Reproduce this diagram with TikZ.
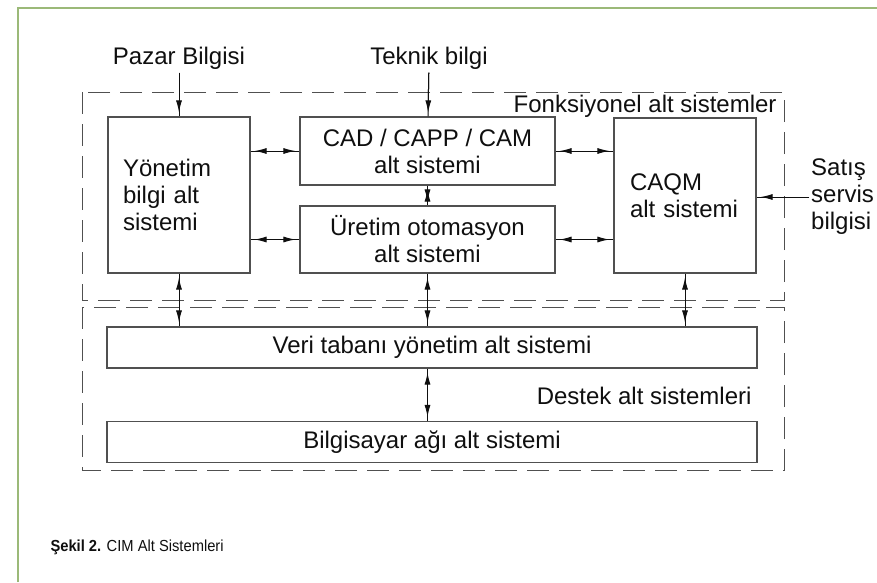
\documentclass[tikz,border=0pt]{standalone}
\usepackage{fontspec}
\setmainfont{Liberation Sans}
\newfontfamily\capfont[FakeStretch=0.92]{Liberation Sans}
\usetikzlibrary{arrows.meta}
\definecolor{cimFrame}{RGB}{155,185,120}
\definecolor{cimLine}{RGB}{80,80,80}
\definecolor{cimText}{RGB}{15,15,15}

\tikzset{
  subbox/.style={draw=cimLine,line width=1.1pt,inner sep=0pt,font=\fontsize{24}{27}\selectfont,text=cimText},
  groupbox/.style={draw=cimLine,line width=1pt,dash pattern=on 22pt off 10pt},
  link/.style={line width=1pt,draw=cimText,postaction={draw,shorten <=4pt,shorten >=4pt,{Latex[length=12pt,width=6pt]}-{Latex[length=12pt,width=6pt]}}},
  infeed/.style={line width=1pt,draw=cimText,postaction={draw,shorten >=4pt,-{Latex[length=12pt,width=6pt]}}},
  lbl/.style={font=\fontsize{24}{27}\selectfont,text=cimText}
}

\begin{document}
\begin{tikzpicture}[x=1pt,y=-1pt]
  \useasboundingbox (0,0) rectangle (877,582);
  % page frame
  \draw[cimFrame,line width=1.6pt] (18,582) -- (18,8) -- (877,8);

  % group outlines
  \draw[groupbox] (82,92) rectangle (784,300);
  \draw[groupbox] (82,307) rectangle (784,470);
  \node[lbl,anchor=base east] (fonk) at (780,112) {Fonksiyonel alt sistemler};
  \node[lbl,anchor=base east] (destek) at (755,404) {Destek alt sistemleri};

  % sub systems
  \node[subbox,text width=112pt,inner xsep=15pt,minimum height=156pt,align=left] (yonetim) at (179,195) {Yönetim\\bilgi alt\\sistemi};
  \node[subbox,minimum width=255pt,minimum height=68pt,align=center] (cad) at (427.5,151) {CAD / CAPP / CAM\\alt sistemi};
  \node[subbox,minimum width=255pt,minimum height=67pt,align=center] (uretim) at (427.5,239.5) {Üretim otomasyon\\alt sistemi};
  \node[subbox,text width=110pt,inner xsep=16pt,minimum height=155pt,align=left] (caqm) at (685,195.5) {CAQM\\alt sistemi};
  \node[subbox,minimum width=650pt,minimum height=41pt] (veri) at (432,347.5) {Veri tabanı yönetim alt sistemi};
  \node[subbox,minimum width=650pt,minimum height=41pt] (ag) at (432,442) {Bilgisayar ağı alt sistemi};

  % outside information
  \node[lbl] (pazar) at (179,58) {Pazar Bilgisi};
  \node[lbl] (teknik) at (429,58) {Teknik bilgi};
  \node[lbl,anchor=west,align=left,inner sep=0pt] (satis) at (811,197) {Satış\\servis\\bilgisi};

  \draw[infeed] (pazar) -- (yonetim);
  \draw[infeed] (teknik) -- (cad);
  \draw[infeed] ([xshift=-2pt]satis.west) -- (caqm.east |- satis.west);

  % links between sub systems
  \foreach \a/\b in {yonetim/cad,yonetim/uretim}
    \draw[link] (\a.east |- \b.west) -- (\b.west);
  \foreach \a/\b in {cad/caqm,uretim/caqm}
    \draw[link] (\a.east) -- (\b.west |- \a.east);
  \draw[link] (cad) -- (uretim);
  \foreach \a in {yonetim,uretim,caqm}
    \draw[link] (\a.south) -- (\a.south |- veri.north);
  \draw[link] (veri.south -| uretim.south) -- (ag.north -| uretim.south);

  % caption
  \node[anchor=base west,font=\capfont\fontsize{16}{19}\selectfont,text=cimText] (caption) at (47,551) {\textbf{Şekil 2.} CIM Alt Sistemleri};
\end{tikzpicture}
\end{document}
